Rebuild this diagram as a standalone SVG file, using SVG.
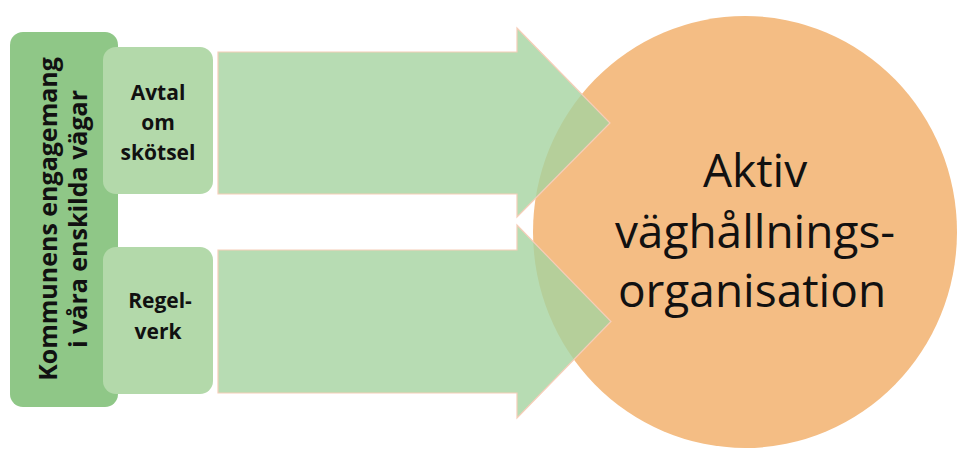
<svg xmlns="http://www.w3.org/2000/svg" width="958" height="449" viewBox="0 0 958 449">
<defs>
<style>
.bar{fill:#8fc787;}
.box{fill:#b3d9aa;}
.arrow{fill:#a5d3a0;fill-opacity:0.8;stroke:#f6cdb8;stroke-width:1.2;}
.circ{fill:#f4bd84;}
.lbl{font-family:"Open Sans","Liberation Sans",sans-serif;font-weight:bold;fill:#111;text-anchor:middle;}
.big{font-family:"Open Sans","Liberation Sans",sans-serif;fill:#111;text-anchor:middle;font-size:46px;}
</style>
</defs>
<rect width="958" height="449" fill="#ffffff"/>
<g id="node-organisation">
<ellipse class="circ" cx="745" cy="232" rx="212" ry="216"/>
<text class="big" x="755" y="187">Aktiv</text>
<text class="big" x="755" y="248">väghållnings-</text>
<text class="big" x="752" y="307">organisation</text>
</g>
<g id="connectors">
<path id="arrow-avtal" class="arrow" d="M218,52 H517 V28 L610,123 L517,217 V194 H218 Z"/>
<path id="arrow-regelverk" class="arrow" d="M218,250 H517 V225 L611,321.5 L517,418 V393 H218 Z"/>
</g>
<g id="node-kommunens">
<rect class="bar" x="10" y="32" width="108" height="375" rx="13" ry="13"/>
<text class="lbl" font-size="25" transform="translate(57,219) rotate(-90)"><tspan x="0" y="0">Kommunens engagemang</tspan><tspan x="0" y="30">i våra enskilda vägar</tspan></text>
</g>
<g id="node-avtal">
<rect class="box" x="103" y="47" width="110" height="147" rx="13" ry="13"/>
<text class="lbl" font-size="21"><tspan x="158" y="100">Avtal</tspan><tspan x="158" y="130">om</tspan><tspan x="158" y="160">skötsel</tspan></text>
</g>
<g id="node-regelverk">
<rect class="box" x="103" y="247" width="110" height="147" rx="13" ry="13"/>
<text class="lbl" font-size="21"><tspan x="160" y="308">Regel-</tspan><tspan x="158" y="339">verk</tspan></text>
</g>
</svg>
